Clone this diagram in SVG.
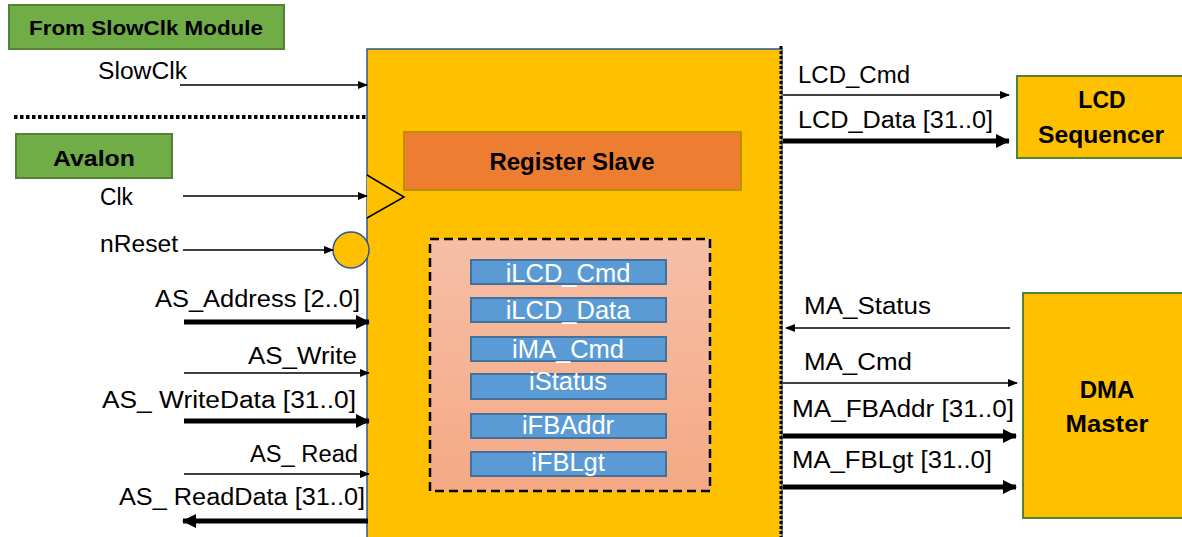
<svg xmlns="http://www.w3.org/2000/svg" width="1182" height="537" viewBox="0 0 1182 537">
<style>
.lbl{font-family:"Liberation Sans",Arial,sans-serif;font-size:23.5px;fill:#000}
.bold{font-family:"Liberation Sans",Arial,sans-serif;font-weight:bold;fill:#000}
.reg{font-family:"Liberation Sans",Arial,sans-serif;font-size:25.5px;fill:#fff;text-anchor:middle}
.green{fill:#70AD47;stroke:#548235;stroke-width:2}
.bar{fill:#5B9BD5;stroke:#41719C;stroke-width:2}
.thin{stroke:#000;stroke-width:1.6;fill:none;marker-end:url(#ah)}
.thick{stroke:#000;stroke-width:5;fill:none;marker-end:url(#ahb)}
</style>
<defs>
<marker id="ah" markerUnits="userSpaceOnUse" markerWidth="10" markerHeight="10" refX="9" refY="5" orient="auto"><path d="M0,1 L10,5 L0,9 Z" fill="#000"/></marker>
<marker id="ahb" markerUnits="userSpaceOnUse" markerWidth="14" markerHeight="14" refX="13" refY="7" orient="auto"><path d="M0,0 L14,7 L0,14 Z" fill="#000"/></marker>
<linearGradient id="pg" x1="0" y1="0" x2="0" y2="1"><stop offset="0" stop-color="#F6BFA6"/><stop offset="1" stop-color="#F4A984"/></linearGradient>
</defs>
<rect width="1182" height="537" fill="#fff"/>

<g id="from-slowclk">
<rect class="green" x="9" y="5" width="275" height="44"/>
<text class="bold" x="146" y="35" font-size="20" text-anchor="middle" textLength="234" lengthAdjust="spacingAndGlyphs">From SlowClk Module</text>
</g>
<g id="avalon">
<rect class="green" x="16" y="134" width="156" height="44"/>
<text class="bold" x="94" y="166" font-size="22" text-anchor="middle" textLength="82" lengthAdjust="spacingAndGlyphs">Avalon</text>
</g>
<line x1="14" y1="117" x2="366" y2="117" stroke="#000" stroke-width="4" stroke-dasharray="3.5,2.5"/>

<g id="main-block">
<rect x="367" y="49" width="415" height="500" fill="#FFC000" stroke="#2F5597" stroke-width="1.5"/>
<line x1="781" y1="46" x2="781" y2="537" stroke="#000" stroke-width="3" stroke-dasharray="3,2"/>
<path d="M367,175 L404,197 L367,218" fill="#FFC000" stroke="#000" stroke-width="1.5"/>
<circle cx="351" cy="250" r="18" fill="#FFC000" stroke="#2F5597" stroke-width="1.5"/>
</g>
<g id="register-slave">
<rect x="404" y="132" width="337" height="58" fill="#ED7D31" stroke="#BF9000" stroke-width="2"/>
<text class="bold" x="572" y="170" font-size="24" text-anchor="middle" textLength="165" lengthAdjust="spacingAndGlyphs">Register Slave</text>
</g>
<g id="registers">
<rect x="430" y="239" width="280" height="252" fill="url(#pg)" stroke="#000" stroke-width="2.5" stroke-dasharray="9,5"/>
<rect class="bar" x="471" y="260" width="195" height="24"/>
<text class="reg" x="568" y="282">iLCD_Cmd</text>
<rect class="bar" x="471" y="298" width="195" height="24"/>
<text class="reg" x="568" y="319">iLCD_Data</text>
<rect class="bar" x="471" y="337" width="195" height="24"/>
<text class="reg" x="568" y="358">iMA_Cmd</text>
<rect class="bar" x="471" y="374" width="195" height="25"/>
<text class="reg" x="568" y="390">iStatus</text>
<rect class="bar" x="471" y="414" width="195" height="24"/>
<text class="reg" x="568" y="434">iFBAddr</text>
<rect class="bar" x="471" y="452" width="195" height="24"/>
<text class="reg" x="568" y="471">iFBLgt</text>
</g>
<g id="lcd-sequencer">
<rect x="1017" y="76" width="170" height="82" fill="#FFC000" stroke="#548235" stroke-width="2"/>
<text class="bold" x="1102" y="108" font-size="23" text-anchor="middle">LCD</text>
<text class="bold" x="1101" y="143" font-size="23" text-anchor="middle" textLength="126" lengthAdjust="spacingAndGlyphs">Sequencer</text>
</g>
<g id="dma-master">
<rect x="1023" y="293" width="164" height="225" fill="#FFC000" stroke="#548235" stroke-width="2"/>
<text class="bold" x="1107" y="398" font-size="24" text-anchor="middle">DMA</text>
<text class="bold" x="1107" y="432" font-size="24" text-anchor="middle" textLength="83" lengthAdjust="spacingAndGlyphs">Master</text>
</g>

<g id="connectors">
<line class="thin" x1="180" y1="85" x2="367" y2="85"/>
<line class="thin" x1="183" y1="196" x2="367" y2="196"/>
<line class="thin" x1="183" y1="250" x2="333" y2="250"/>
<line class="thick" x1="184" y1="322" x2="369" y2="322"/>
<line class="thin" x1="184" y1="373" x2="369" y2="373"/>
<line class="thick" x1="184" y1="421" x2="369" y2="421"/>
<line class="thin" x1="184" y1="474" x2="369" y2="474"/>
<line class="thick" x1="368" y1="521" x2="183" y2="521"/>
<line class="thin" x1="783" y1="95" x2="1009" y2="95"/>
<line class="thick" x1="783" y1="141" x2="1009" y2="141"/>
<line class="thin" x1="1010" y1="328" x2="786" y2="328"/>
<line class="thin" x1="783" y1="383" x2="1017" y2="383"/>
<line class="thick" x1="783" y1="436" x2="1016" y2="436"/>
<line class="thick" x1="783" y1="487" x2="1016" y2="487"/>
</g>

<g id="labels">
<text class="lbl" x="98" y="79" textLength="89" lengthAdjust="spacingAndGlyphs">SlowClk</text>
<text class="lbl" x="100" y="205" textLength="33" lengthAdjust="spacingAndGlyphs">Clk</text>
<text class="lbl" x="100" y="252" textLength="78" lengthAdjust="spacingAndGlyphs">nReset</text>
<text class="lbl" x="155" y="307" textLength="205" lengthAdjust="spacingAndGlyphs">AS_Address [2..0]</text>
<text class="lbl" x="248" y="364" textLength="109" lengthAdjust="spacingAndGlyphs">AS_Write</text>
<text class="lbl" x="102" y="408" textLength="254" lengthAdjust="spacingAndGlyphs">AS_ WriteData [31..0]</text>
<text class="lbl" x="250" y="462" textLength="108" lengthAdjust="spacingAndGlyphs">AS_ Read</text>
<text class="lbl" x="119" y="505" textLength="246" lengthAdjust="spacingAndGlyphs">AS_ ReadData [31..0]</text>
<text class="lbl" x="798" y="83" textLength="112" lengthAdjust="spacingAndGlyphs">LCD_Cmd</text>
<text class="lbl" x="798" y="128" textLength="195" lengthAdjust="spacingAndGlyphs">LCD_Data [31..0]</text>
<text class="lbl" x="804" y="314" textLength="127" lengthAdjust="spacingAndGlyphs">MA_Status</text>
<text class="lbl" x="804" y="370" textLength="108" lengthAdjust="spacingAndGlyphs">MA_Cmd</text>
<text class="lbl" x="792" y="417" textLength="222" lengthAdjust="spacingAndGlyphs">MA_FBAddr [31..0]</text>
<text class="lbl" x="792" y="468" textLength="200" lengthAdjust="spacingAndGlyphs">MA_FBLgt [31..0]</text>
</g>
</svg>
